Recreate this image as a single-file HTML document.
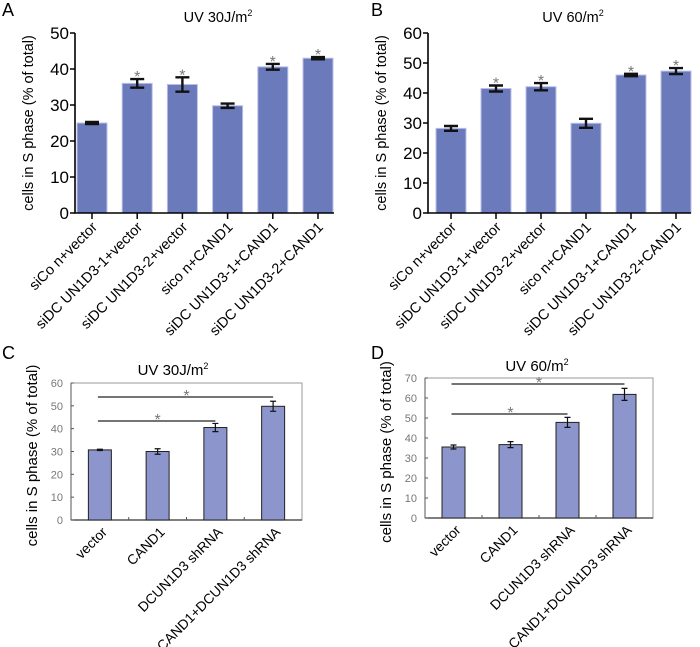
<!DOCTYPE html>
<html><head><meta charset="utf-8"><style>
body{margin:0;background:#fff;}
svg{display:block;font-family:"Liberation Sans",sans-serif;}
</style></head><body>
<svg id="fig" width="700" height="647" viewBox="0 0 700 647"></svg>
<script>
const catsAB=["siCo n+vector","siDC UN1D3-1+vector","siDC UN1D3-2+vector","sico n+CAND1","siDC UN1D3-1+CAND1","siDC UN1D3-2+CAND1"];
const valsA=[25,36,35.7,29.8,40.6,43];
const errA=[0.3,1.2,2,0.6,0.8,0.3];
const valsB=[28.2,41.5,42.1,29.9,46,47.3];
const errB=[0.8,1,1.2,1.5,0.4,1];
const ticksA=[0,10,20,30,40,50];
const ticksB=[0,10,20,30,40,50,60];
const catsCD=["vector","CAND1","DCUN1D3 shRNA","CAND1+DCUN1D3 shRNA"];
const valsC=[30.7,30,40.5,49.8];
const errC=[0.3,1.2,1.8,2.2];
const valsD=[35.5,36.7,47.8,61.8];
const errD=[1,1.5,2.5,3];
const ticksC=[0,10,20,30,40,50,60];
const ticksD=[0,10,20,30,40,50,60,70];
const sigA=[0,1,1,0,1,1];
const sigB=[0,1,1,0,1,1];

const NS="http://www.w3.org/2000/svg";
const svg=document.getElementById('fig');
function el(t,a,txt){const e=document.createElementNS(NS,t);for(const k in a)e.setAttribute(k,a[k]);if(txt!==undefined)e.textContent=txt;svg.appendChild(e);return e;}

function prism(p){
  const y=v=>p.y0-(v/p.max)*(p.y0-p.yTop);
  const x=i=>p.x0+i*p.step;
  let t=el('text',{x:p.lx,y:p.ly,'font-size':18,fill:'#000'},p.letter);
  
  t=el('text',{x:p.tx,y:22,'font-size':14.5,'text-anchor':'middle'},p.title);
  
  const sup=document.createElementNS(NS,'tspan');sup.setAttribute('font-size',9);sup.setAttribute('dy',-6);sup.textContent='2';t.appendChild(sup);
  p.vals.forEach((v,i)=>{
    const r=el('rect',{x:x(i)-15,y:y(v),width:30,height:p.y0-y(v),fill:'#6b7abb',stroke:'#b8c0e6','stroke-width':1});
    
    const e=p.err[i];
    el('path',{d:`M${x(i)} ${y(v+e)}V${y(v-e)}M${x(i)-7} ${y(v+e)}h14M${x(i)-7} ${y(v-e)}h14`,stroke:'#111','stroke-width':2.4,fill:'none'});
    if(p.sig[i]){const s=el('text',{x:x(i),y:y(v+e)+3,'font-size':16,fill:'#777','text-anchor':'middle'},'*');
      }
    el('line',{x1:x(i),x2:x(i),y1:p.y0,y2:p.y0+6,stroke:'#000','stroke-width':1.5});
    const lb=el('text',{x:x(i)+6,y:p.y0+15,'font-size':14.5,'text-anchor':'end',transform:`rotate(-45 ${x(i)+6} ${p.y0+15})`},p.cats[i]);
    
  });
  el('path',{d:`M${p.axX} ${p.yTop}V${p.y0}H${p.axEnd}`,stroke:'#000','stroke-width':1.6,fill:'none'});
  p.ticks.forEach(tk=>{
    el('line',{x1:p.axX-5,x2:p.axX,y1:y(tk),y2:y(tk),stroke:'#000','stroke-width':1.5});
    const tl=el('text',{x:p.axX-6,y:y(tk)+6,'font-size':17,'text-anchor':'end'},tk);
    
  });
  const cx=p.axX-42;
  const yl=el('text',{x:cx,y:(p.y0+p.yTop)/2,'font-size':14.5,'text-anchor':'middle',transform:`rotate(-90 ${cx} ${(p.y0+p.yTop)/2})`},'cells in S phase (% of total)');
  
}
prism({id:'a',letter:'A',lx:2,ly:16,tx:218,title:'UV 30J/m',cats:catsAB,vals:valsA,err:errA,sig:sigA,ticks:ticksA,max:50,y0:213,yTop:33,x0:92,step:45.2,axX:75,axEnd:334});
prism({id:'b',letter:'B',lx:371,ly:16,tx:573,title:'UV 60/m',cats:catsAB,vals:valsB,err:errB,sig:sigB,ticks:ticksB,max:60,y0:213,yTop:33,x0:451,step:45,axX:428,axEnd:691});

function excel(p){
  const y=v=>p.y0-(v/p.max)*(p.y0-p.yTop);
  const step=(p.fx2-p.fx1)/p.cats.length;
  const x=i=>p.fx1+step*(i+0.5);
  let t=el('text',{x:p.lx,y:p.ly,'font-size':18},p.letter);
  
  t=el('text',{x:p.tx,y:p.ty,'font-size':15,'text-anchor':'middle'},p.title);
  
  const sup=document.createElementNS(NS,'tspan');sup.setAttribute('font-size',9);sup.setAttribute('dy',-6);sup.textContent='2';t.appendChild(sup);
  el('rect',{x:p.fx1,y:p.yTop,width:p.fx2-p.fx1,height:p.y0-p.yTop,fill:'none',stroke:'#999','stroke-width':1});
  el('line',{x1:p.fx1,x2:p.fx2,y1:p.y0,y2:p.y0,stroke:'#333','stroke-width':1.2});
  el('line',{x1:p.fx1,x2:p.fx1,y1:p.yTop,y2:p.y0,stroke:'#555','stroke-width':1});
  p.ticks.forEach(tk=>{
    el('line',{x1:p.fx1,x2:p.fx1+3,y1:y(tk),y2:y(tk),stroke:'#555'});
    const tl=el('text',{x:p.fx1-8,y:y(tk)+4,'font-size':11,fill:'#777','text-anchor':'end'},tk);
    
  });
  for(let i=1;i<p.cats.length;i++)el('line',{x1:p.fx1+step*i,x2:p.fx1+step*i,y1:p.y0,y2:p.y0-3,stroke:'#555'});
  p.vals.forEach((v,i)=>{
    const r=el('rect',{x:x(i)-11.5,y:y(v),width:23,height:p.y0-y(v),fill:'#8c95cc',stroke:'#222','stroke-width':1});
    
    const e=p.err[i];
    el('path',{d:`M${x(i)} ${y(v+e)}V${y(v-e)}M${x(i)-3} ${y(v+e)}h6M${x(i)-3} ${y(v-e)}h6`,stroke:'#111','stroke-width':1.2,fill:'none'});
    const lb=el('text',{x:x(i)+8,y:p.y0+13,'font-size':13.8,'text-anchor':'end',transform:`rotate(-45 ${x(i)+8} ${p.y0+13})`},p.cats[i]);
    
  });
  p.sigs.forEach(s=>{
    const ln=el('line',{x1:x(0)-2,x2:x(s[0]),y1:s[1],y2:s[1],stroke:'#222','stroke-width':1.3});
    
    el('text',{x:(x(0)+x(s[0]))/2,y:s[1]+4,'font-size':16,fill:'#777','text-anchor':'middle'},'*');
  });
  const cy=(p.y0+p.yTop)/2+4;
  const cx=p.fx1-34;
  const yl=el('text',{x:cx,y:cy,'font-size':15,'text-anchor':'middle',transform:`rotate(-90 ${cx} ${cy})`},'cells in S phase (% of total)');
  
}
excel({id:'c',letter:'C',lx:2,ly:359,tx:173,ty:375,title:'UV 30J/m',cats:catsCD,vals:valsC,err:errC,ticks:ticksC,max:60,y0:520,yTop:383,fx1:71,fx2:302,sigs:[[3,397],[2,421]]});
excel({id:'d',letter:'D',lx:371,ly:359,tx:537,ty:371,title:'UV 60/m',cats:catsCD,vals:valsD,err:errD,ticks:ticksD,max:70,y0:518,yTop:378,fx1:425,fx2:653,sigs:[[3,384],[2,414]]});
</script>
</body></html>
